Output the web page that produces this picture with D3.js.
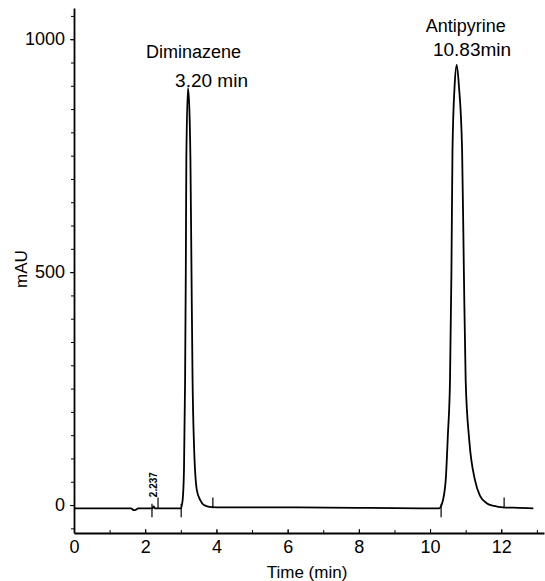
<!DOCTYPE html>
<html>
<head>
<meta charset="utf-8">
<script src="https://cdn.jsdelivr.net/npm/d3@7"></script>
<style>
  html, body { margin: 0; padding: 0; background: #fff; }
  svg { display: block; font-family: "Liberation Sans", Arial, sans-serif; }
</style>
</head>
<body>
<svg id="chart" width="545" height="581"></svg>
<script>
// Chromatogram: Diminazene / Antipyrine, detector signal vs time.
// Trace points (time in min, signal in mAU).

const traceTime = [0, 1.0, 1.6, 1.68, 1.74, 1.8, 2.15, 2.2, 2.237, 2.27, 2.5,
  3.0, 3.05, 3.09, 3.12, 3.14, 3.155, 3.20, 3.24, 3.27, 3.30, 3.33, 3.37, 3.45, 3.55, 3.65, 3.8, 4.0,
  6.0, 8.0, 10.0, 10.25, 10.34, 10.44, 10.50, 10.56, 10.60, 10.63, 10.69, 10.75, 10.81, 10.90,
  10.95, 11.00, 11.10, 11.26, 11.40, 11.59, 11.8, 12.05, 12.5, 12.9];
const traceMAU = [-7, -7, -7, -11, -10, -7, -7, -7, -3, -7, -7,
  -7, 10, 80, 268, 500, 741, 895, 850, 741, 500, 268, 130, 32, 10, 0, -4, -5,
  -5, -6, -7, -7, 4, 54, 150, 268, 500, 762, 900, 945, 900, 762,
  500, 268, 140, 54, 20, 4, -2, -5, -6, -7];

// integration marks on the baseline (start = below, end = above)
const markTime = [2.19, 2.36, 3.01, 3.90, 10.31, 12.08];
const markKind = ['start', 'end', 'start', 'end', 'start', 'end'];

const peakNames = ['Diminazene', 'Antipyrine'];
const peakRT = ['3.20 min', '10.83min'];
const nameAt = [[2.02, 960], [9.88, 1015]];
const rtAt = [[2.84, 898], [10.08, 963]];

const smallPeakLabel = '2.237';
const smallPeakAt = [2.36, 17];

const xTicks = [0, 2, 4, 6, 8, 10, 12];
const xMinor = d3.range(0, 13.01, 1);
const yTicks = [0, 500, 1000];
const yMinor = d3.range(-50, 1051, 50);

const MARGIN = { top: 8, right: 1, bottom: 48, left: 74 };
const width = 545, height = 581;
const innerW = width - MARGIN.left - MARGIN.right;
const innerH = height - MARGIN.top - MARGIN.bottom;

const svg = d3.select('#chart');
const g = svg.append('g').attr('transform', `translate(${MARGIN.left},${MARGIN.top})`);

const x = d3.scaleLinear().domain([0, 13.2]).range([0, innerW]);
const y = d3.scaleLinear().domain([-60, 1067]).range([innerH, 0]);

// axes
const yMinorAx = g.append('g').call(d3.axisLeft(y).tickValues(yMinor).tickSize(3).tickFormat(''));
yMinorAx.select('.domain').remove();
const yAx = g.append('g')
  .call(d3.axisLeft(y).tickValues(yTicks).tickFormat(d3.format('d')).tickSize(4).tickSizeOuter(0).tickPadding(5));
yAx.select('.domain').attr('stroke-width', 1.8);
yAx.selectAll('text').style('font-size', '18px').attr('fill', '#000');

const xMinorAx = g.append('g').attr('transform', `translate(0,${innerH})`)
  .call(d3.axisBottom(x).tickValues(xMinor).tickSize(-3).tickFormat(''));
xMinorAx.select('.domain').remove();
const xAx = g.append('g').attr('transform', `translate(0,${innerH})`)
  .call(d3.axisBottom(x).tickValues(xTicks).tickSize(-4).tickSizeOuter(0).tickPadding(7));
xAx.select('.domain').attr('stroke-width', 1.8);
xAx.selectAll('text').style('font-size', '18px').attr('fill', '#000');

// axis titles
svg.append('text')
  .attr('x', 307).attr('y', 578)
  .attr('text-anchor', 'middle')
  .style('font-size', '17px')
  .text('Time (min)');
svg.append('text')
  .attr('transform', 'translate(27,269) rotate(-90)')
  .attr('text-anchor', 'middle')
  .style('font-size', '17px')
  .text('mAU');

// trace
const line = d3.line()
  .x((d, i) => x(traceTime[i]))
  .y(d => y(d))
  .curve(d3.curveMonotoneX);

g.append('path')
  .datum(traceMAU)
  .attr('fill', 'none')
  .attr('stroke', '#000')
  .attr('stroke-width', 1.8)
  .attr('stroke-linejoin', 'round')
  .attr('d', line);

// baseline marks
g.append('g')
  .selectAll('line')
  .data(markTime)
  .enter()
  .append('line')
  .attr('x1', d => x(d)).attr('x2', d => x(d))
  .attr('y1', (d, i) => markKind[i] === 'start' ? y(3) : y(-7))
  .attr('y2', (d, i) => markKind[i] === 'start' ? y(-26) : y(16))
  .attr('stroke', '#000')
  .attr('stroke-width', 1.2);

// peak labels
g.append('g')
  .selectAll('text')
  .data(peakNames)
  .enter()
  .append('text')
  .attr('x', (d, i) => x(nameAt[i][0]))
  .attr('y', (d, i) => y(nameAt[i][1]))
  .style('font-size', '18px')
  .text(d => d);

g.append('g')
  .selectAll('text')
  .data(peakRT)
  .enter()
  .append('text')
  .attr('x', (d, i) => x(rtAt[i][0]))
  .attr('y', (d, i) => y(rtAt[i][1]))
  .style('font-size', '19px')
  .text(d => d);

g.append('text')
  .attr('transform', `translate(${x(smallPeakAt[0]) - 1},${y(smallPeakAt[1])}) rotate(-90)`)
  .style('font-size', '10px')
  .style('font-weight', 'bold')
  .text(smallPeakLabel);
</script>
</body>
</html>
